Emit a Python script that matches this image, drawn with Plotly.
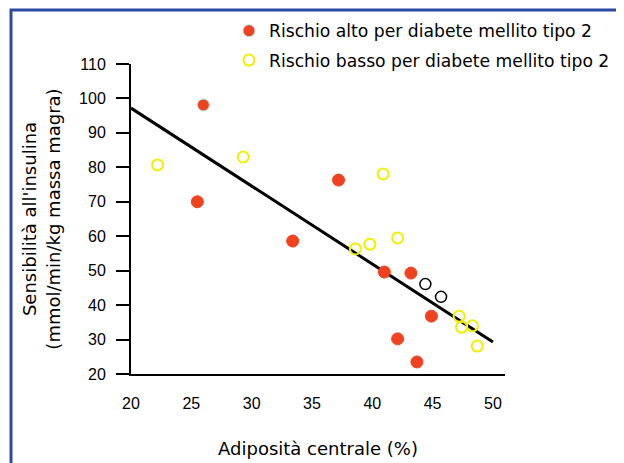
import plotly.graph_objects as go

# High risk (red filled)
alto_x = [26.0, 25.5, 37.2, 33.4, 41.0, 43.2, 44.9, 42.1, 43.7]
alto_y = [98.1, 70.0, 76.3, 58.6, 49.6, 49.3, 36.8, 30.2, 23.5]
# Low risk (yellow open)
basso_x = [22.2, 29.3, 40.9, 38.6, 39.8, 42.1, 47.2, 47.4, 48.3, 48.7]
basso_y = [80.7, 83.0, 78.1, 56.3, 57.7, 59.5, 36.8, 33.6, 34.0, 28.1]
# Black open circles
nero_x = [44.4, 45.7]
nero_y = [46.1, 42.4]
# Regression line
fit_x = [20, 50]
fit_y = [97.2, 29.3]

x_ticks = [20, 25, 30, 35, 40, 45, 50]
y_ticks = [20, 30, 40, 50, 60, 70, 80, 90, 100, 110]

RED = "#f0421f"
YEL = "#f2ee00"
TICKFONT = "Liberation Sans, Arial, sans-serif"
TEXTFONT = "DejaVu Sans, Verdana, sans-serif"

# plot area in figure pixels (page has an 8px body offset)
L, T, R, B = 123, 56, 497, 366
W, H = R - L, B - T

fig = go.Figure()
fig.add_trace(go.Scatter(x=fit_x, y=fit_y, mode="lines",
                         line=dict(color="black", width=3), showlegend=False,
                         hoverinfo="skip"))
fig.add_trace(go.Scatter(x=basso_x, y=basso_y, mode="markers",
                         name="Rischio basso per diabete mellito tipo 2",
                         legendgroup="b", legendrank=2,
                         marker=dict(symbol="circle-open", size=11, color=YEL,
                                     line=dict(width=2, color=YEL))))
fig.add_trace(go.Scatter(x=nero_x, y=nero_y, mode="markers", showlegend=False,
                         marker=dict(symbol="circle-open", size=11, color="black",
                                     line=dict(width=1.5, color="black"))))
line_cols = ["#b8e6ee"] + [RED] * (len(alto_x) - 1)
fig.add_trace(go.Scatter(x=alto_x, y=alto_y, mode="markers",
                         name="Rischio alto per diabete mellito tipo 2",
                         legendgroup="a", legendrank=1,
                         marker=dict(symbol="circle", size=12, color=RED,
                                     line=dict(width=1, color=line_cols))))

fig.update_layout(
    width=624, height=463,
    margin=dict(l=L, r=624 - R, t=T, b=463 - B, autoexpand=False),
    paper_bgcolor="white", plot_bgcolor="white",
    font=dict(family=TEXTFONT, size=16, color="black"),
    showlegend=True,
    legend=dict(x=(221 - L) / W, y=(B - 5) / H, xanchor="left", yanchor="top",
                bgcolor="rgba(0,0,0,0)", font=dict(size=17.2, family=TEXTFONT),
                traceorder="grouped", tracegroupgap=4, itemwidth=30),
    xaxis=dict(range=[20, 51], tickvals=x_ticks, ticks="", showgrid=False,
               zeroline=False, showline=True, linecolor="black", linewidth=2,
               tickfont=dict(size=16, family=TICKFONT), ticklabelstandoff=14,
               automargin=False,
               title=dict(text="Adiposità centrale (%)",
                          font=dict(size=18, family=TEXTFONT), standoff=31)),
    xaxis2=dict(range=[20, 51], overlaying="x", anchor="y", side="bottom",
                tickvals=[20], ticks="outside", ticklen=16, tickwidth=2,
                tickcolor="black", showticklabels=False, showgrid=False,
                zeroline=False, showline=False),
    yaxis=dict(range=[20, 110], tickvals=y_ticks, ticks="outside", ticklen=13,
               tickwidth=2, tickcolor="black", showgrid=False, zeroline=False,
               showline=True, linecolor="black", linewidth=2,
               tickfont=dict(size=16, family=TICKFONT), ticklabelstandoff=7,
               automargin=False,
               title=dict(text="Sensibilità all'insulina<br>(mmol/min/kg massa magra)",
                          font=dict(size=18, family=TEXTFONT), standoff=14)),
    shapes=[dict(type="rect", xref="paper", yref="paper",
                 x0=(3 - L) / W, x1=1.6, y0=-0.6, y1=(B - 2) / H,
                 line=dict(color="#2b4ba0", width=3), fillcolor="rgba(0,0,0,0)",
                 layer="below")],
)

fig.write_html("out.html")
